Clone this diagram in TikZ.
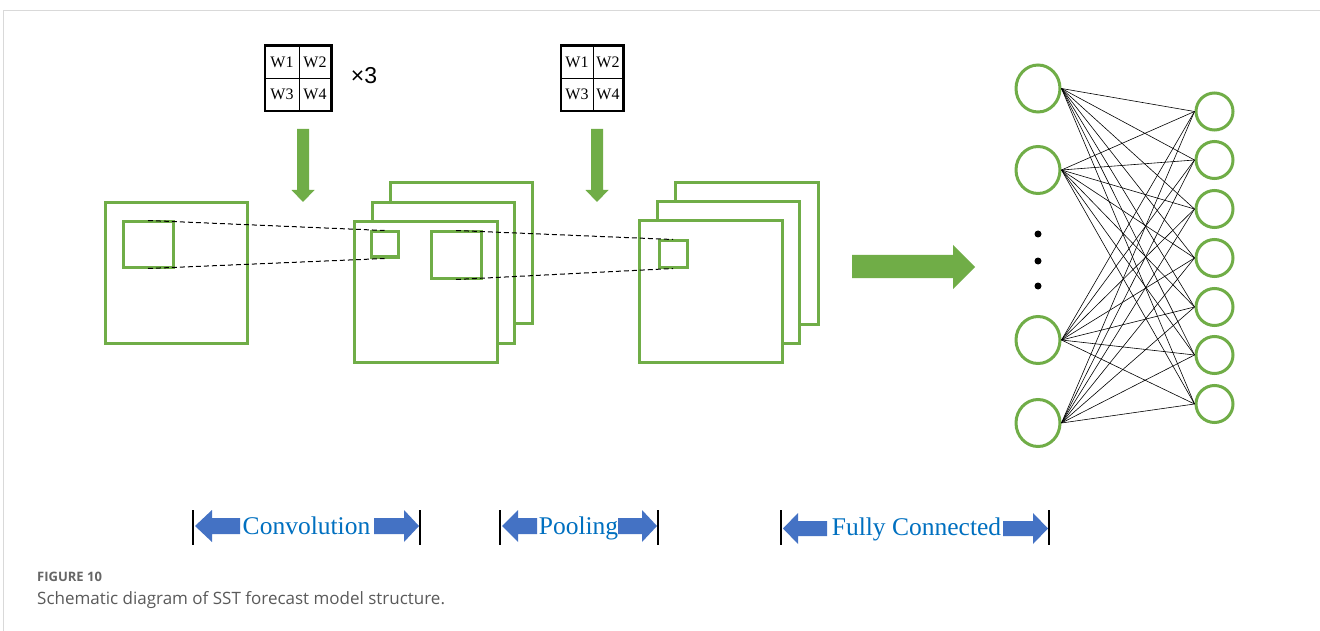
\documentclass[tikz,border=0pt]{standalone}
\usepackage{fontspec}
\setmainfont{Liberation Serif}
\newfontfamily\sansA{Liberation Sans}
\newfontfamily\capfont{Open Sans}
\usetikzlibrary{shapes.geometric}
\definecolor{grn}{HTML}{70AD47}
\definecolor{blu}{HTML}{4472C4}
\definecolor{txtblue}{HTML}{0070C0}
\definecolor{capgray}{HTML}{5A5A5A}
\definecolor{figgray}{HTML}{666666}
\definecolor{framegray}{HTML}{D9D9D9}
\begin{document}
\begin{tikzpicture}[x=1pt,y=-1pt,
  sq/.style={draw=grn, line width=3pt, fill=white, inner sep=0pt},
  wcell/.style={draw=black, line width=0.8pt, inner sep=0pt, minimum height=32.5pt, font=\fontsize{16}{16}\selectfont},
  wframe/.style={draw=black, line width=2.2pt},
  neuronL/.style={ellipse, draw=grn, line width=3pt, minimum width=44pt, minimum height=47pt, inner sep=0pt},
  neuronR/.style={circle, draw=grn, line width=3pt, minimum size=37pt, inner sep=0pt},
  link/.style={line width=0.6pt, black},
  dashlink/.style={black, line width=1pt, dash pattern=on 5pt off 3pt},
  lbl/.style={text=txtblue, font=\fontsize{25.5}{26}\selectfont, inner sep=0pt, anchor=base},
  bar/.style={line width=2pt, black},
  greenarrow/.style={fill=grn},
  bluearrow/.style={fill=blu},
]
\useasboundingbox (0,0) rectangle (1320,631);
\fill[white] (0,0) rectangle (1320,631);
% frame
\draw[framegray, line width=1.5pt] (3,10.5) -- (1320,10.5);
\draw[framegray, line width=1pt] (3,10.5) -- (3,631);

% weight box 1
\node[wcell, minimum width=34pt] (a1) at (282,62.25) {W1};
\node[wcell, minimum width=32pt] (a2) at (315,62.25) {W2};
\node[wcell, minimum width=34pt] (a3) at (282,94.75) {W3};
\node[wcell, minimum width=32pt] (a4) at (315,94.75) {W4};
\draw[wframe] (a1.north west) rectangle (a4.south east);
\node[font=\sansA\fontsize{23}{23}\selectfont, inner sep=0pt] (times) at (364,76) {×3};

% weight box 2
\node[wcell, minimum width=32pt] (b1) at (577,62.25) {W1};
\node[wcell, minimum width=30pt] (b2) at (608,62.25) {W2};
\node[wcell, minimum width=32pt] (b3) at (577,94.75) {W3};
\node[wcell, minimum width=30pt] (b4) at (608,94.75) {W4};
\draw[wframe] (b1.north west) rectangle (b4.south east);

% down arrows
\fill[greenarrow] (297,129) -- (309,129) -- (309,190) -- (314.5,190) -- (303,202) -- (291.5,190) -- (297,190) -- cycle;
\fill[greenarrow] (591,129) -- (603,129) -- (603,190) -- (608.5,190) -- (597,202) -- (585.5,190) -- (591,190) -- cycle;

% input map
\node[sq, minimum width=142pt, minimum height=140pt] (in) at (176,273) {};
\node[sq, minimum width=50pt, minimum height=45pt] (inwin) at (148,244.5) {};

% convolution stack
\node[sq, minimum width=142pt, minimum height=140pt] (c3) at (461,253) {};
\node[sq, minimum width=142pt, minimum height=140pt] (c2) at (443,273) {};
\node[sq, minimum width=143pt, minimum height=140pt] (c1) at (425.5,292) {};
\node[sq, minimum width=27pt, minimum height=25pt] (cwin) at (384.5,244.5) {};
\node[sq, minimum width=50pt, minimum height=46pt] (cbig) at (456,255) {};

% pooling stack
\node[sq, minimum width=143pt, minimum height=141pt] (p3) at (746.5,253.5) {};
\node[sq, minimum width=142pt, minimum height=141pt] (p2) at (728,272.5) {};
\node[sq, minimum width=143pt, minimum height=141pt] (p1) at (710.5,291.5) {};
\node[sq, minimum width=28pt, minimum height=26pt] (pwin) at (673,254) {};

% dashed projections
\draw[dashlink] (inwin.north) -- (cwin.north);
\draw[dashlink] (inwin.south) -- (cwin.south);
\draw[dashlink] (cbig.north) -- (pwin.north);
\draw[dashlink] (cbig.south) -- (pwin.south);

% big arrow
\fill[greenarrow] (852,255) -- (953,255) -- (953,245) -- (975,267) -- (953,289) -- (953,278) -- (852,278) -- cycle;

% neural network
\foreach \n/\y in {1/88.5, 2/170, 3/340, 4/423}
  \node[neuronL] (L\n) at (1038,\y) {};
\foreach \n/\y in {1/111.5, 2/160, 3/209, 4/258, 5/307, 6/355, 7/404}
  \node[neuronR] (R\n) at (1214.5,\y) {};
\foreach \i in {1,...,4}
  \foreach \j in {1,...,7}
    \draw[link] (L\i.east) -- (R\j.west);
\foreach \n/\y in {1/234, 2/261, 3/286}
  \fill[black] (1038,\y) circle (3.5pt);

% bottom labels
\node[lbl] (tconv) at (306.5,534) {Convolution};
\node[lbl] (tpool) at (578.5,534) {Pooling};
\node[lbl] (tfc) at (916.5,535) {Fully Connected};

\fill[bluearrow] (195,526) -- (212,510) -- (212,518) -- (240,518) -- (240,534) -- (212,534) -- (212,542) -- cycle;
\fill[bluearrow] (419,526) -- (404,510) -- (404,518) -- (374,518) -- (374,534) -- (404,534) -- (404,542) -- cycle;
\fill[bluearrow] (502,526) -- (518,510) -- (518,518) -- (537,518) -- (537,534) -- (518,534) -- (518,542) -- cycle;
\fill[bluearrow] (657,526) -- (642,510) -- (642,518) -- (618,518) -- (618,534) -- (642,534) -- (642,542) -- cycle;
\fill[bluearrow] (783,528.5) -- (798,513) -- (798,521) -- (827,521) -- (827,536) -- (798,536) -- (798,544) -- cycle;
\fill[bluearrow] (1048,528.5) -- (1033,513) -- (1033,521) -- (1003,521) -- (1003,536) -- (1033,536) -- (1033,544) -- cycle;

\coordinate (bc1t) at (193,510); \coordinate (bc1b) at (193,545);
\coordinate (bc2t) at (420,510); \coordinate (bc2b) at (420,545);
\coordinate (bp1t) at (500,510); \coordinate (bp1b) at (500,545);
\coordinate (bp2t) at (657.5,510); \coordinate (bp2b) at (657.5,545);
\coordinate (bf1t) at (781,510); \coordinate (bf1b) at (781,545);
\coordinate (bf2t) at (1049,510); \coordinate (bf2b) at (1049,545);
\draw[bar] (bc1t) -- (bc1b);
\draw[bar] (bc2t) -- (bc2b);
\draw[bar] (bp1t) -- (bp1b);
\draw[bar] (bp2t) -- (bp2b);
\draw[bar] (bf1t) -- (bf1b);
\draw[bar] (bf2t) -- (bf2b);

% caption
\node[anchor=base west, inner sep=0pt, text=figgray, font=\capfont\bfseries\fontsize{13}{14}\selectfont] (figno) at (37,581) {FIGURE 10};
\node[anchor=base west, inner sep=0pt, text=capgray, font=\capfont\fontsize{17}{18}\selectfont] (cap) at (37,604) {Schematic diagram of SST forecast model structure.};
\end{tikzpicture}
\end{document}
